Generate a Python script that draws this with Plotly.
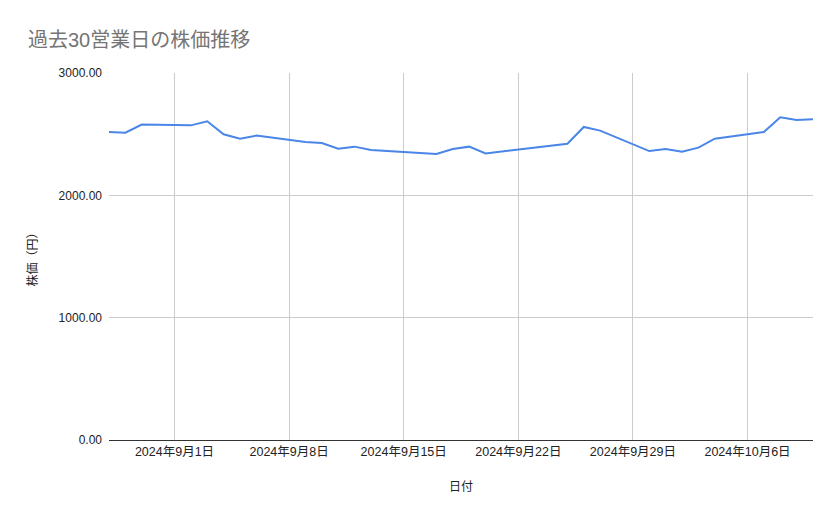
import plotly.graph_objects as go

# 過去30営業日の終値
dates = [
    "2024-08-28", "2024-08-29", "2024-08-30",
    "2024-09-02", "2024-09-03", "2024-09-04", "2024-09-05", "2024-09-06",
    "2024-09-09", "2024-09-10", "2024-09-11", "2024-09-12", "2024-09-13",
    "2024-09-17", "2024-09-18", "2024-09-19", "2024-09-20",
    "2024-09-24", "2024-09-25", "2024-09-26", "2024-09-27",
    "2024-09-30", "2024-10-01", "2024-10-02", "2024-10-03", "2024-10-04",
    "2024-10-07", "2024-10-08", "2024-10-09", "2024-10-10",
]
prices = [
    2518, 2512, 2578,
    2572, 2605, 2499, 2463, 2488,
    2436, 2428, 2381, 2398, 2371,
    2338, 2379, 2398, 2343,
    2406, 2422, 2559, 2529,
    2362, 2379, 2357, 2390, 2463,
    2518, 2638, 2616, 2621,
]

tick_dates = ["2024-09-01", "2024-09-08", "2024-09-15", "2024-09-22",
              "2024-09-29", "2024-10-06"]
tick_labels = ["2024年9月1日", "2024年9月8日", "2024年9月15日", "2024年9月22日",
               "2024年9月29日", "2024年10月6日"]

font_family = "Arial, 'Liberation Sans', 'Noto Sans CJK JP', sans-serif"

# the page body keeps its default 8px margin, so the figure is 8px smaller
W, H = 831, 511

fig = go.Figure()
fig.add_trace(go.Scatter(
    x=dates, y=prices, mode="lines",
    line=dict(color="#4a86e8", width=2),
))

fig.update_layout(
    width=W, height=H,
    margin=dict(l=101, r=26, t=65, b=79),
    paper_bgcolor="white", plot_bgcolor="white",
    showlegend=False,
    font=dict(family=font_family, size=12, color="#222222"),
    title=dict(
        text="過去30営業日の株価推移",
        x=20 / W, xref="container", xanchor="left",
        y=1 - 32 / H, yref="container", yanchor="middle",
        font=dict(size=20, color="#757575", family=font_family),
    ),
)

fig.update_xaxes(
    type="date",
    range=["2024-08-28", "2024-10-10"],
    tickvals=tick_dates, ticktext=tick_labels,
    showgrid=True, gridcolor="#cccccc", gridwidth=1,
    showline=True, linecolor="#333333", linewidth=1,
    zeroline=False, ticks="", automargin=False,
    tickfont=dict(size=12.5, color="#222222"),
    title=dict(text="日付", font=dict(size=12, color="#222222"), standoff=24),
)

fig.update_yaxes(
    range=[0, 3000],
    tickvals=[0, 1000, 2000, 3000],
    tickformat=".2f",
    showgrid=True, gridcolor="#cccccc", gridwidth=1,
    zeroline=False, showline=False, ticks="", automargin=False,
    ticklabelstandoff=6,
    tickfont=dict(size=12, color="#222222"),
    title=dict(text="株価（円）", font=dict(size=12, color="#222222"), standoff=18),
)

fig.write_html("out.html")
